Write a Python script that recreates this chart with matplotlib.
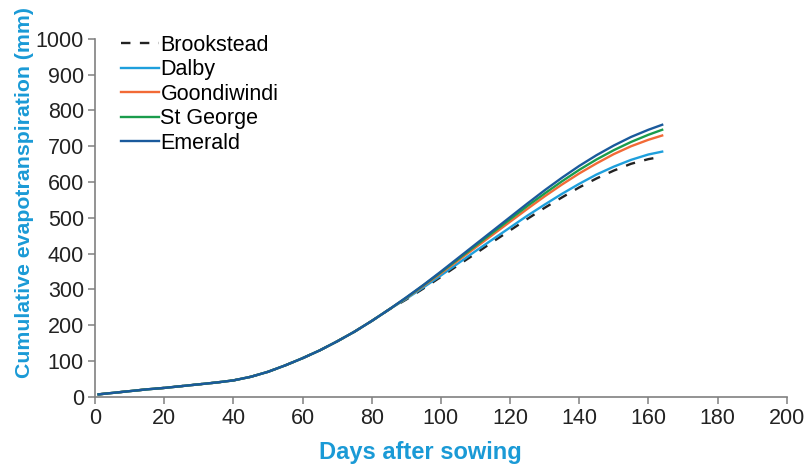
import matplotlib.pyplot as plt

# common early part (all sites nearly identical)
days_early = [1, 5, 10, 15, 20, 25, 30, 35, 40, 45, 50, 55, 60, 65, 70, 75, 80, 85]
et_early = [7, 11, 16, 21, 25, 30, 35, 40, 46, 56, 70, 88, 108, 130, 155, 182, 212, 244]

days_late = [90, 95, 100, 105, 110, 115, 120, 125, 130, 135, 140, 145, 150, 155, 160, 164]
brookstead = [272, 303, 335, 368, 400, 433, 465, 497, 528, 557, 585, 610, 632, 651, 664, 671]
dalby = [274, 306, 339, 373, 407, 440, 473, 506, 537, 567, 595, 621, 643, 662, 677, 685]
goondiwindi = [276, 310, 345, 381, 417, 453, 489, 525, 560, 593, 624, 652, 678, 700, 718, 730]
st_george = [277, 312, 348, 385, 422, 459, 496, 533, 568, 602, 634, 663, 689, 712, 732, 746]
emerald = [278, 313, 350, 388, 426, 464, 502, 540, 577, 612, 645, 675, 702, 726, 746, 760]

plt.rcParams['font.family'] = ['Liberation Sans', 'DejaVu Sans']

fig = plt.figure(figsize=(8.06, 4.68), dpi=100)
ax = fig.add_axes([0.118, 0.152, 0.858, 0.765])

days = days_early + days_late
series = [
    ('Brookstead', brookstead, '#222222', (0, (4, 4))),
    ('Dalby', dalby, '#1e9fdc', '-'),
    ('Goondiwindi', goondiwindi, '#f26a36', '-'),
    ('St George', st_george, '#1a9c4c', '-'),
    ('Emerald', emerald, '#1a5a9c', '-'),
]
for name, vals, col, ls in series:
    ax.plot(days, et_early + vals, color=col, ls=ls, lw=1.7, label=name)

ax.set_xlim(0, 200)
ax.set_ylim(0, 1000)
ax.set_xticks(range(0, 201, 20))
ax.set_yticks(range(0, 1001, 100))

for s in ['top', 'right']:
    ax.spines[s].set_visible(False)
for s in ['left', 'bottom']:
    ax.spines[s].set_color('#808080')
    ax.spines[s].set_linewidth(1.2)
ax.tick_params(colors='#808080', labelcolor='#222222', labelsize=15.5, length=5, width=1.1, pad=3)

blue = '#1a9ad6'
ax.set_xlabel('Days after sowing', fontsize=17, fontweight='bold', color=blue)
ax.set_ylabel('Cumulative evapotranspiration (mm)', fontsize=15.3, fontweight='bold', color=blue)
ax.xaxis.set_label_coords(0.47, -0.122)
ax.yaxis.set_label_coords(-0.088, 0.57)

ax.legend(loc='upper left', bbox_to_anchor=(0.025, 1.035), frameon=False, fontsize=15.5,
          handlelength=1.75, handletextpad=0.08, labelspacing=0.16, borderaxespad=0)

fig.savefig('out.png', dpi=100)
